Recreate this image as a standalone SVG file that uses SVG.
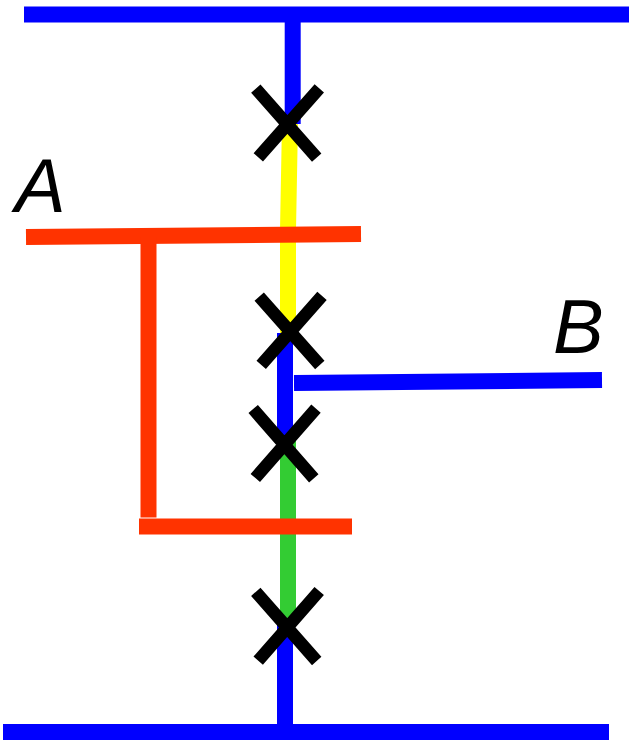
<svg xmlns="http://www.w3.org/2000/svg" width="629" height="741" viewBox="0 0 629 741">
<style>
.l{fill:none;stroke-width:16}
.b{stroke:#0000ff}.r{stroke:#ff3300}.y{stroke:#ffff00}.g{stroke:#33cc33}
.x{fill:none;stroke:#000;stroke-width:12.500}
text{font-family:"Liberation Sans",Arial,sans-serif;font-style:italic;font-size:76px;fill:#000}
</style>
<rect width="629" height="741" fill="#fff"/>
<g id="connectors">
<path class="l y" d="M290 122L288 230L288 334"/>
<path class="l b" d="M24 14.500H629"/>
<path class="l b" d="M292.700 14.500V124"/>
<path class="l b" d="M285 333V445"/>
<path class="l g" d="M288 440V620"/>
<path class="l b" d="M285 620V732"/>
<path class="l b" d="M3 732H609"/>
<path class="l b" d="M294 383L602 380"/>
<path class="l r" d="M26 237L361 234"/>
<path class="l r" d="M148.500 237V517.500"/>
<path class="l r" d="M139 526.500H352"/>
</g>
<g id="cross1"><path class="x" d="M255.800 88.700L316.700 157.700M319.300 88.300L258.300 157.300"/></g>
<g id="cross2"><path class="x" d="M259.200 296.700L319.800 365M322 295.800L261.200 364.800"/></g>
<g id="cross3"><path class="x" d="M253.200 409L313.800 478.300M316 408.700L255.300 478"/></g>
<g id="cross4"><path class="x" d="M255.800 591.800L316.700 661M319.200 591L258.200 660.700"/></g>
<g id="labelA"><text x="15" y="211.500">A</text></g>
<g id="labelB"><text x="553" y="353">B</text></g>
</svg>
